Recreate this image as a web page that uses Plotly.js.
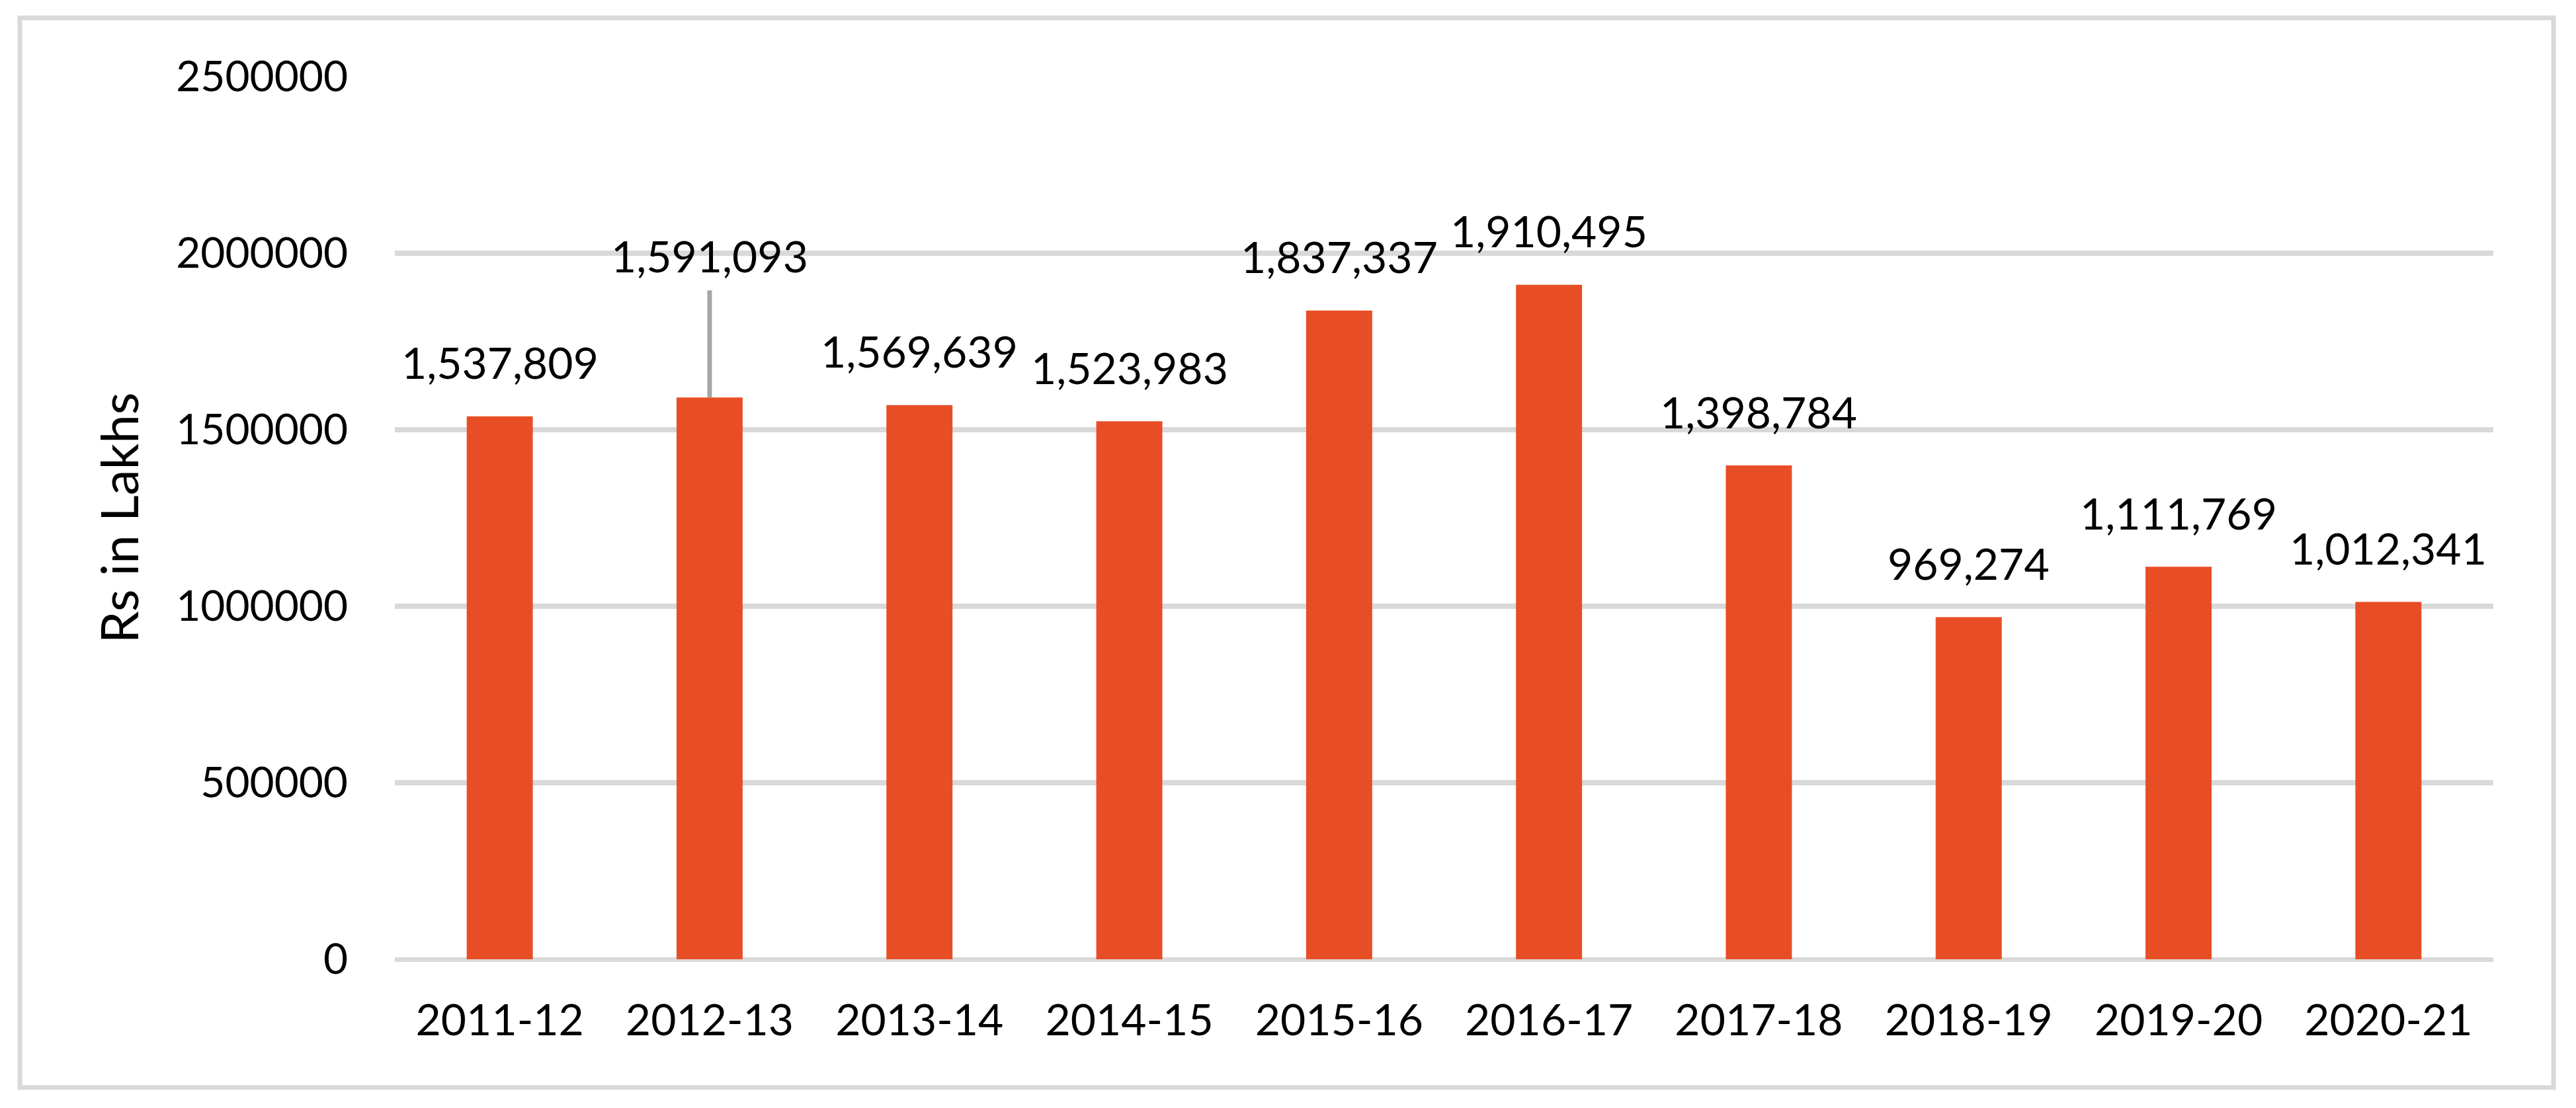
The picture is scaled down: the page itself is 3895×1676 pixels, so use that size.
<!DOCTYPE html>
<html>
<head>
<meta charset="utf-8">
<script src="https://cdn.plot.ly/plotly-3.0.1.min.js"></script>
<style>
  html, body { margin: 0; padding: 0; background: #ffffff; }
  #chart { width: 3895px; height: 1676px; }
</style>
</head>
<body>
<div id="chart"></div>
<script>
// ---- data ----
const categories = ['2011-12', '2012-13', '2013-14', '2014-15', '2015-16',
                    '2016-17', '2017-18', '2018-19', '2019-20', '2020-21'];
const values = [1537809, 1591093, 1569639, 1523983, 1837337,
                1910495, 1398784, 969274, 1111769, 1012341];
const yTickValues = [0, 500000, 1000000, 1500000, 2000000, 2500000];
const yAxisTitle = 'Rs in Lakhs';

// ---- layout constants (pixels) ----
const W = 3895, H = 1676;
const plotL = 597, plotR = 3770, plotT = 116, plotB = 1451;
const pw = plotR - plotL, ph = plotB - plotT;
const fontFam = 'Lato, "Open Sans", sans-serif';
const barColor = '#E84E26';
const gridColor = '#D9D9D9';

function px2x(px) { return (px - plotL) / pw; }
function px2y(py) { return (plotB - py) / ph; }

const fmt = v => v.toLocaleString('en-US');

const trace = {
  type: 'bar',
  x: categories,
  y: values,
  marker: { color: barColor, line: { width: 0 } },
  hoverinfo: 'skip',
  showlegend: false
};

const annotations = categories.map((c, i) => {
  if (i === 1) {
    return {
      x: c, y: values[i], xref: 'x', yref: 'y',
      text: fmt(values[i]),
      showarrow: true, arrowhead: 0, arrowwidth: 7, arrowcolor: '#A6A6A6',
      ax: 0, ay: -215, startstandoff: 12, standoff: 0,
      font: { family: fontFam, size: 66, color: '#000000' }
    };
  }
  return {
    x: c, y: values[i], xref: 'x', yref: 'y',
    text: fmt(values[i]),
    showarrow: false,
    yanchor: 'middle', yshift: 82,
    font: { family: fontFam, size: 66, color: '#000000' }
  };
});

const layout = {
  width: W, height: H,
  margin: { l: plotL, r: W - plotR, t: plotT, b: H - plotB, pad: 0 },
  paper_bgcolor: '#ffffff',
  plot_bgcolor: '#ffffff',
  font: { family: fontFam, color: '#000000', size: 64 },
  bargap: 0.685,
  xaxis: {
    type: 'category',
    showgrid: false,
    showline: false,
    zeroline: false,
    ticks: '',
    ticklabelstandoff: 48,
    tickfont: { family: fontFam, size: 66, color: '#000000' },
    automargin: false
  },
  yaxis: {
    range: [0, 2500000],
    tickvals: yTickValues,
    tickformat: 'd',
    showgrid: true,
    gridcolor: gridColor,
    gridwidth: 8,
    zeroline: true,
    zerolinecolor: gridColor,
    zerolinewidth: 7,
    showline: false,
    ticks: '',
    ticklabelstandoff: 70,
    tickfont: { family: fontFam, size: 64, color: '#000000' },
    automargin: false,
    title: {
      text: yAxisTitle,
      font: { family: fontFam, size: 78, color: '#000000' },
      standoff: 30
    }
  },
  annotations: annotations,
  shapes: [{
    type: 'rect', xref: 'paper', yref: 'paper',
    x0: px2x(30), x1: px2x(3861), y0: px2y(1645), y1: px2y(27),
    line: { color: gridColor, width: 7 },
    fillcolor: 'rgba(0,0,0,0)',
    layer: 'below'
  }]
};

Plotly.newPlot('chart', [trace], layout, { staticPlot: true, displayModeBar: false });
</script>
</body>
</html>
